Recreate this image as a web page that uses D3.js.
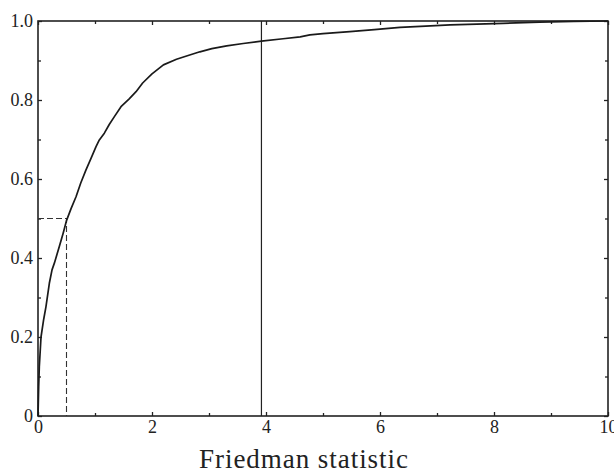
<!DOCTYPE html>
<html>
<head>
<meta charset="utf-8">
<script src="https://cdn.jsdelivr.net/npm/d3@7"></script>
<style>
  html, body { margin: 0; padding: 0; background: #fff; }
  svg { display: block; }
  text { font-family: "Liberation Serif", "DejaVu Serif", serif; fill: #222; }
</style>
</head>
<body>
<svg id="chart" width="614" height="473"></svg>
<script>
const statValues = [0, 0.005, 0.012, 0.023, 0.053, 0.10, 0.14, 0.199, 0.246, 0.287, 0.374, 0.44, 0.503, 0.58, 0.667, 0.75, 0.842, 0.93, 1.018, 1.076, 1.164, 1.25, 1.34, 1.456, 1.6, 1.72, 1.836, 2.0, 2.2, 2.43, 2.62, 2.84, 3.05, 3.31, 3.6, 3.92, 4.3, 4.6, 4.77, 5.0, 5.47, 5.9, 6.35, 6.8, 7.23, 7.7, 8.16, 8.8, 9.4, 10];
const cdfValues  = [0, 0.03, 0.074, 0.125, 0.2, 0.245, 0.277, 0.336, 0.37, 0.387, 0.429, 0.462, 0.496, 0.525, 0.555, 0.59, 0.623, 0.652, 0.682, 0.699, 0.716, 0.738, 0.758, 0.783, 0.803, 0.821, 0.843, 0.866, 0.889, 0.903, 0.912, 0.922, 0.93, 0.937, 0.943, 0.949, 0.955, 0.960, 0.965, 0.968, 0.973, 0.978, 0.984, 0.987, 0.990, 0.992, 0.994, 0.997, 0.999, 1.0];
const xMajorTicks = [0, 2, 4, 6, 8, 10];
const xMinorTicks = [1, 3, 5, 7, 9];
const yMajorTicks = [0, 0.2, 0.4, 0.6, 0.8, 1.0];
const yMinorTicks = [0.1, 0.3, 0.5, 0.7, 0.9];
const medianStat = 0.5;     // dashed guide: CDF = 0.5
const medianCdf = 0.5;
const criticalStat = 3.92;  // solid vertical line
const xTitle = "Friedman statistic";

const svg = d3.select("#chart");
const L = 38, R = 608, T = 21, B = 416;
const x = d3.scaleLinear().domain([0, 10]).range([L, R]);
const y = d3.scaleLinear().domain([0, 1]).range([B, T]);

const yFmt = d => d === 0 ? "0" : d3.format(".1f")(d);

// Ticks (inward) on all four sides
function addAxis(axisGen, transform, vals, fmt, len, showLabels) {
  const g = svg.append("g").attr("transform", transform)
    .call(axisGen.tickValues(vals).tickSizeInner(-len).tickSizeOuter(0).tickFormat(showLabels ? fmt : ""));
  g.select(".domain").remove();
  g.selectAll(".tick line").attr("stroke", "#222").attr("stroke-width", 1.3);
  g.selectAll(".tick text").attr("font-size", 18)
    .style("font-family", "'Liberation Serif', 'DejaVu Serif', serif").attr("fill", "#222");
  return g;
}
const gxB = addAxis(d3.axisBottom(x), `translate(0,${B})`, xMajorTicks, d3.format("d"), 4, true);
gxB.selectAll(".tick text").attr("y", 4).attr("dy", "0.71em");
addAxis(d3.axisBottom(x), `translate(0,${B})`, xMinorTicks, null, 3, false);
addAxis(d3.axisTop(x), `translate(0,${T})`, xMajorTicks, null, 4, false);
addAxis(d3.axisTop(x), `translate(0,${T})`, xMinorTicks, null, 3, false);
const gyL = addAxis(d3.axisLeft(y), `translate(${L},0)`, yMajorTicks, yFmt, 4, true);
gyL.selectAll(".tick text").attr("x", -5);
addAxis(d3.axisLeft(y), `translate(${L},0)`, yMinorTicks, null, 3, false);
addAxis(d3.axisRight(y), `translate(${R},0)`, yMajorTicks, null, 4, false);
addAxis(d3.axisRight(y), `translate(${R},0)`, yMinorTicks, null, 3, false);

// Frame
svg.append("rect").attr("x", L).attr("y", T).attr("width", R - L).attr("height", B - T)
  .attr("fill", "none").attr("stroke", "#222").attr("stroke-width", 1.6);

// Dashed guide lines
svg.append("path")
  .attr("d", `M${x(0)},${y(medianCdf)}H${x(medianStat)}V${y(0)}`)
  .attr("fill", "none").attr("stroke", "#333").attr("stroke-width", 1.1)
  .attr("stroke-dasharray", "6,3");

// Critical value line
svg.append("line")
  .attr("x1", x(criticalStat)).attr("x2", x(criticalStat))
  .attr("y1", y(0)).attr("y2", y(1))
  .attr("stroke", "#222").attr("stroke-width", 1.2);

// CDF curve
const pts = statValues.map((v, i) => [v, cdfValues[i]]);
svg.append("path")
  .datum(pts)
  .attr("d", d3.line().x(d => x(d[0])).y(d => y(d[1])).curve(d3.curveLinear))
  .attr("fill", "none").attr("stroke", "#1a1a1a").attr("stroke-width", 1.7)
  .attr("stroke-linejoin", "round");

// X title
svg.append("text").attr("x", 303.5).attr("y", 468)
  .attr("text-anchor", "middle").attr("font-size", 27)
  .attr("textLength", 209).attr("lengthAdjust", "spacing").text(xTitle);
</script>
</body>
</html>
